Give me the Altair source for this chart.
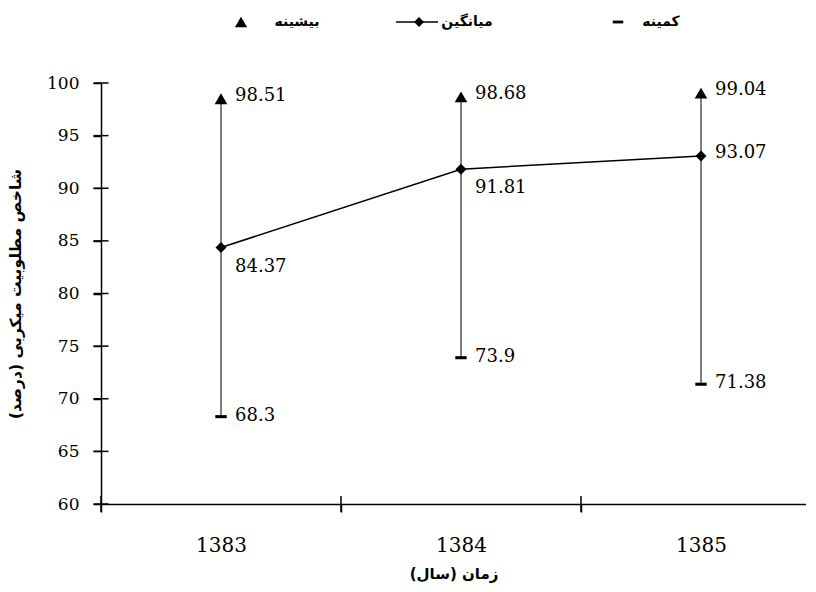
import altair as alt
import pandas as pd

years = [1383, 1384, 1385]
max_vals = [98.51, 98.68, 99.04]
mean_vals = [84.37, 91.81, 93.07]
min_vals = [68.3, 73.9, 71.38]

legend_labels = ["بیشینه", "میانگین", "کمینه"]
y_title = "\u200fشاخص مطلوبیت میکربی (درصد)\u200f"
x_title = "\u200fزمان (سال)\u200f"
y_ticks = [60, 65, 70, 75, 80, 85, 90, 95, 100]
x_ticks = [1382.5, 1383, 1383.5, 1384, 1384.5, 1385]
x_cross_ticks = [1382.5, 1383.5, 1384.5]

df = pd.DataFrame({"year": years, "max": max_vals, "mean": mean_vals, "min": min_vals})
df["max_label"] = df["max"].map(lambda v: f"{v:g}")
df["mean_label"] = df["mean"].map(lambda v: f"{v:g}")
df["min_label"] = df["min"].map(lambda v: f"{v:g}")

legend_df = pd.DataFrame({"label": legend_labels})
ytick_df = pd.DataFrame({"v": y_ticks})
xtick_df = pd.DataFrame({"v": x_cross_ticks})

W, H = 705, 421
xscale = alt.Scale(domain=[1382.5, 1385.4375], nice=False, zero=False)
yscale = alt.Scale(domain=[60, 100], nice=False, zero=False)

x_enc = alt.X(
    "year:Q",
    scale=xscale,
    axis=alt.Axis(
        values=x_ticks,
        labelExpr="datum.value % 1 == 0 ? format(datum.value, 'd') : ''",
        tickOpacity={"condition": {"test": "datum.value % 1 == 0", "value": 0}, "value": 1},
        tickSize=8,
        labelPadding=23,
        labelFontSize=20,
        labelOverlap=False,
        labelFlush=False,
        grid=False,
        title=x_title,
        titleFontSize=15,
        titlePadding=11,
    ),
)

base = alt.Chart(df)

rules = base.mark_rule(color="black", strokeWidth=1).encode(
    x=x_enc,
    y=alt.Y(
        "min:Q",
        scale=yscale,
        axis=alt.Axis(
            values=y_ticks,
            tickSize=8,
            labelPadding=14,
            labelFontSize=17,
            grid=False,
            title=y_title,
            titleFontSize=15.5,
            titlePadding=23,
        ),
    ),
    y2="max:Q",
)

# inner halves of the crossing axis ticks
ytick_marks = alt.Chart(ytick_df).mark_tick(
    orient="horizontal", size=15, thickness=1.5, color="black", opacity=1
).encode(x=alt.value(0), y=alt.Y("v:Q"))
xtick_marks = alt.Chart(xtick_df).mark_tick(
    orient="vertical", size=16, thickness=1.5, color="black", opacity=1
).encode(x=alt.X("v:Q"), y=alt.value(H))

line = base.mark_line(color="black", strokeWidth=1.5).encode(
    x=alt.X("year:Q"), y=alt.Y("mean:Q")
)
diamonds = base.mark_point(shape="diamond", filled=True, color="black", size=120, opacity=1).encode(
    x="year:Q", y="mean:Q"
)
triangles = base.mark_point(shape="triangle-up", filled=True, color="black", size=160, opacity=1).encode(
    x="year:Q", y="max:Q"
)
dashes = base.mark_point(
    shape="M-1,-0.27L1,-0.27L1,0.27L-1,0.27Z", filled=True, color="black", size=130, opacity=1
).encode(x="year:Q", y="min:Q")

tfont = dict(font="DejaVu Serif", fontSize=18, color="black", align="left", baseline="middle")
max_text = base.mark_text(dx=14, dy=-3, **tfont).encode(x="year:Q", y="max:Q", text="max_label:N")
mean_text_a = base.transform_filter(alt.datum.year < 1385).mark_text(dx=14, dy=19, **tfont).encode(
    x="year:Q", y="mean:Q", text="mean_label:N"
)
mean_text_b = base.transform_filter(alt.datum.year == 1385).mark_text(dx=14, dy=-3, **tfont).encode(
    x="year:Q", y="mean:Q", text="mean_label:N"
)
min_text = base.mark_text(dx=14, dy=-1, **tfont).encode(x="year:Q", y="min:Q", text="min_label:N")

# legend (drawn above the plot area)
ly = -61
lfont = dict(font="DejaVu Sans", fontSize=14, fontWeight="bold", color="black", baseline="middle")
leg = alt.Chart(legend_df)
leg_tri = leg.transform_filter(alt.datum.label == legend_labels[0]).mark_point(
    shape="triangle-up", filled=True, color="black", size=150, opacity=1
).encode(x=alt.value(140), y=alt.value(ly))
leg_tri_t = leg.transform_filter(alt.datum.label == legend_labels[0]).mark_text(align="center", **lfont).encode(
    x=alt.value(196), y=alt.value(ly), text="label:N"
)
leg_line = leg.transform_filter(alt.datum.label == legend_labels[1]).mark_rule(color="black", strokeWidth=1.5).encode(
    x=alt.value(295), x2=alt.value(337), y=alt.value(ly)
)
leg_dia = leg.transform_filter(alt.datum.label == legend_labels[1]).mark_point(
    shape="diamond", filled=True, color="black", size=100, opacity=1
).encode(x=alt.value(318), y=alt.value(ly))
leg_mean_t = leg.transform_filter(alt.datum.label == legend_labels[1]).mark_text(align="center", **lfont).encode(
    x=alt.value(366), y=alt.value(ly), text="label:N"
)
leg_dash = leg.transform_filter(alt.datum.label == legend_labels[2]).mark_point(
    shape="M-1,-0.27L1,-0.27L1,0.27L-1,0.27Z", filled=True, color="black", size=110, opacity=1
).encode(x=alt.value(517), y=alt.value(ly))
leg_min_t = leg.transform_filter(alt.datum.label == legend_labels[2]).mark_text(align="center", **lfont).encode(
    x=alt.value(560), y=alt.value(ly), text="label:N"
)

chart = (
    alt.layer(
        rules, ytick_marks, xtick_marks, line, diamonds, triangles, dashes,
        max_text, mean_text_a, mean_text_b, min_text,
        leg_tri, leg_tri_t, leg_line, leg_dia, leg_mean_t, leg_dash, leg_min_t,
    )
    .properties(width=W, height=H, padding={"left": 0, "top": 7, "right": 0, "bottom": 5})
    .configure_view(stroke=None)
    .configure_axis(
        labelFont="DejaVu Serif",
        labelColor="black",
        titleFont="DejaVu Sans",
        titleFontWeight="bold",
        titleColor="black",
        domainColor="black",
        domainWidth=1.5,
        tickColor="black",
        tickWidth=1.5,
    )
)

chart.save("out.html", embed_options={"renderer": "svg", "actions": False})
